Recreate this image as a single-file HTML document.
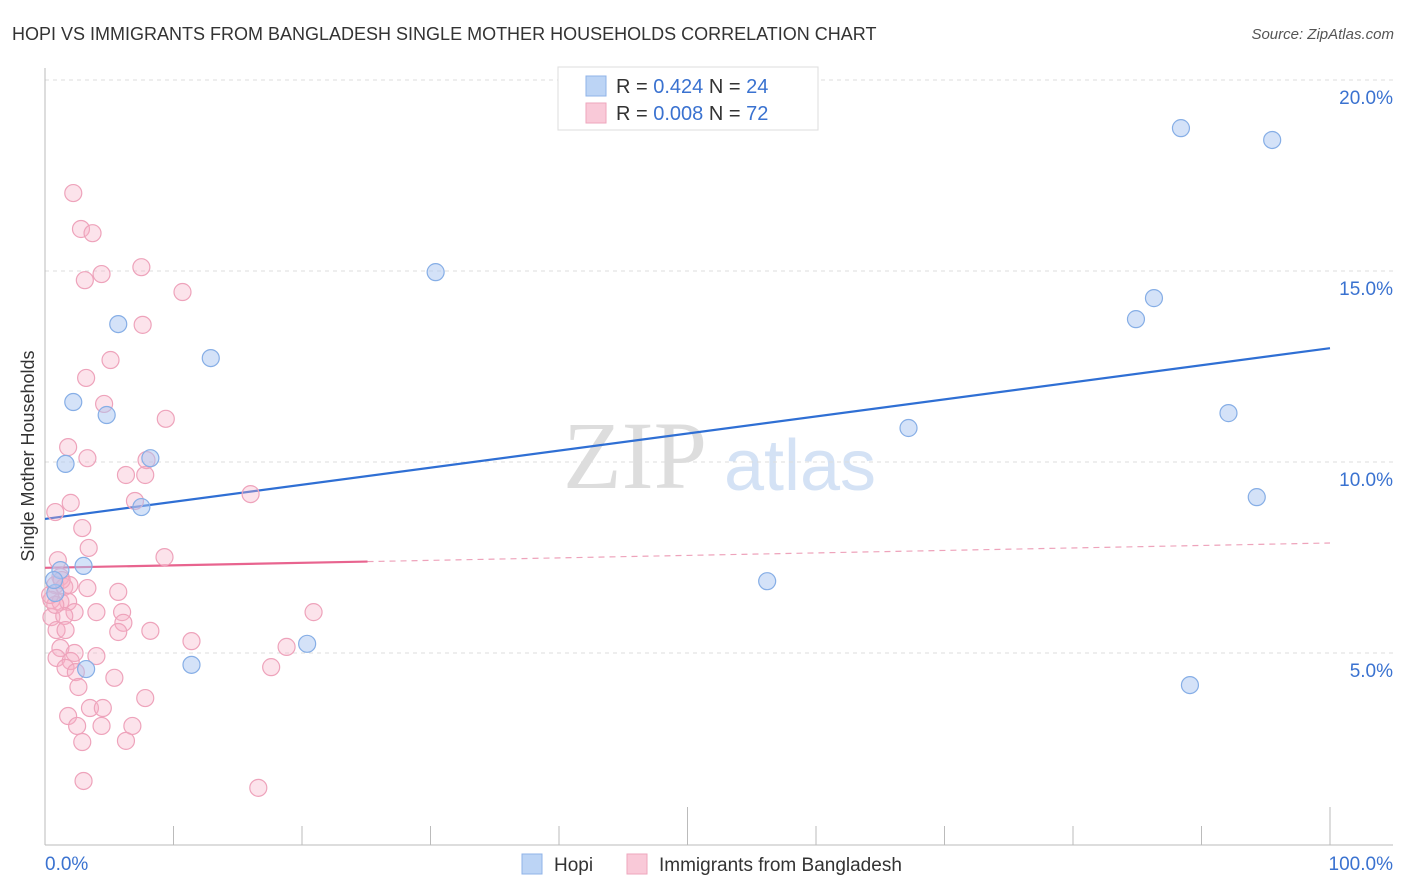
<!DOCTYPE html>
<html><head><meta charset="utf-8"><style>
body{margin:0;background:#fff;font-family:"Liberation Sans",sans-serif}
svg{display:block}
</style></head><body>
<svg id="c" width="1406" height="892" xmlns="http://www.w3.org/2000/svg">
<text x="12" y="40" font-size="18" fill="#333">HOPI VS IMMIGRANTS FROM BANGLADESH SINGLE MOTHER HOUSEHOLDS CORRELATION CHART</text>
<text x="1394" y="39" font-size="15" fill="#555" font-style="italic" text-anchor="end">Source: ZipAtlas.com</text>
<g><text x="635" y="488" font-size="96" fill="#ddd" text-anchor="middle" font-family="Liberation Serif,serif">ZIP</text><text x="800" y="490" font-size="72" fill="#d4e2f5" text-anchor="middle">atlas</text></g>
<g id="grid"></g><g id="axes"></g><g id="lines"></g><g id="pts"></g>
<text transform="translate(34,456) rotate(-90)" font-size="18" fill="#333" text-anchor="middle">Single Mother Households</text>
<g>
<rect x="558" y="67" width="260" height="63" fill="#fff" stroke="#ddd"/>
<rect x="586" y="76" width="20" height="20" fill="#bcd4f5" stroke="#8fb3e8"/>
<rect x="586" y="103" width="20" height="20" fill="#f9c9d8" stroke="#eea6bd"/>
<text x="616" y="93" font-size="20" fill="#333">R = <tspan fill="#3a72d0">0.424</tspan>   N = <tspan fill="#3a72d0">24</tspan></text>
<text x="616" y="120" font-size="20" fill="#333">R = <tspan fill="#3a72d0">0.008</tspan>   N = <tspan fill="#3a72d0">72</tspan></text>
</g>
<g>
<rect x="522" y="854" width="20" height="20" fill="#bcd4f5" stroke="#8fb3e8"/>
<text x="554" y="871" font-size="19" fill="#333">Hopi</text>
<rect x="627" y="854" width="20" height="20" fill="#f9c9d8" stroke="#eea6bd"/>
<text x="659" y="871" font-size="19" fill="#333">Immigrants from Bangladesh</text>
</g>
</svg>
<script>
const yTicks=[5,10,15,20];
const yTickLabels=["5.0%","10.0%","15.0%","20.0%"];
const xTickLabels=["0.0%","100.0%"];
const hopiX=[5.7,2.2,1.6,4.8,8.2,7.5,3.0,1.2,3.2,12.9,11.4,20.4,30.4,56.2,67.2,84.9,86.3,88.4,95.5,92.1,94.3,89.1,0.8,0.7];
const hopiY=[13.61,11.57,9.95,11.23,10.10,8.82,7.28,7.17,4.58,12.72,4.69,5.24,14.97,6.88,10.89,13.74,14.29,18.74,18.43,11.28,9.08,4.16,6.57,6.91];
const bangX=[2.2,2.8,3.7,3.1,4.4,7.5,10.7,7.6,5.1,3.2,4.6,9.4,1.8,3.3,6.3,7.8,7.9,2.0,7.0,16.0,0.8,2.9,3.4,9.3,1.2,0.8,1.5,3.3,5.7,0.5,1.2,1.8,2.3,4.0,6.0,0.5,1.5,6.1,0.9,1.6,5.7,8.2,20.9,11.4,18.8,1.2,2.3,4.0,0.9,2.0,1.6,2.4,17.6,5.4,2.6,7.8,1.8,3.5,4.5,2.5,4.4,6.8,2.9,6.3,3.0,16.6,0.8,0.4,1.3,1.9,1.0];
const bangY=[17.04,16.10,15.99,14.76,14.92,15.10,14.45,13.59,12.67,12.20,11.52,11.13,10.39,10.10,9.66,9.66,10.05,8.93,8.98,9.16,8.69,8.27,7.75,7.51,6.99,6.78,6.73,6.70,6.60,6.39,6.34,6.34,6.07,6.07,6.07,5.94,5.97,5.79,5.60,5.60,5.55,5.58,6.07,5.31,5.16,5.13,5.00,4.92,4.87,4.79,4.61,4.50,4.63,4.35,4.11,3.82,3.35,3.56,3.56,3.09,3.09,3.09,2.67,2.70,1.65,1.47,6.26,6.52,6.91,6.78,7.43];
const hopiTrend=[8.51,12.98];
const bangTrend=[7.23,7.88];
const bangSolidEnd=25.1;
const NS="http://www.w3.org/2000/svg";
const X=v=>45+v/100*1285, Y=v=>844-v/5*191;
function mk(tag,a,p){const e=document.createElementNS(NS,tag);for(const k in a)e.setAttribute(k,a[k]);document.getElementById(p).appendChild(e);return e;}
yTicks.forEach((t,i)=>{
 const g=mk('line',{x1:45,x2:1393,y1:Y(t),y2:Y(t),stroke:'#ddd','stroke-dasharray':'4,4'},'grid');
 
 
 const l=mk('text',{x:1393,y:Y(t)+24,'font-size':19,fill:'#3a72d0','text-anchor':'end'},'grid');
 l.textContent=yTickLabels[i];
 
 
});
const ax=mk('line',{x1:45,x2:1393,y1:845,y2:845,stroke:'#bbb'},'axes');


const ay=mk('line',{x1:45,x2:45,y1:68,y2:845,stroke:'#bbb'},'axes');


for(let i=1;i<=10;i++){
 const v=i*10, tall=(i==5||i==10);
 const t=mk('line',{x1:X(v),x2:X(v),y1:tall?807:826,y2:845,stroke:'#bbb'},'axes');
 
 
}
[[0,'start',45],[100,'end',1393]].forEach((d,i)=>{
 const l=mk('text',{x:d[2],y:870,'font-size':19,fill:'#3a72d0','text-anchor':d[1]},'axes');
 l.textContent=xTickLabels[i];
 
 
});
bangX.forEach((x,i)=>{
 const c=mk('circle',{cx:X(x),cy:Y(bangY[i]),r:8.5,fill:'rgba(246,175,198,0.35)',stroke:'#eea3bb','stroke-width':1.2},'pts');
 
 
});
hopiX.forEach((x,i)=>{
 const c=mk('circle',{cx:X(x),cy:Y(hopiY[i]),r:8.5,fill:'rgba(170,198,242,0.5)',stroke:'#86aee6','stroke-width':1.2},'pts');
 
 
});
const lerp=(a,x)=>a[0]+(a[1]-a[0])*x/100;
const hl=mk('line',{x1:X(0),y1:Y(hopiTrend[0]),x2:X(100),y2:Y(hopiTrend[1]),stroke:'#2f6fd4','stroke-width':2.2},'lines');


const bl=mk('line',{x1:X(0),y1:Y(bangTrend[0]),x2:X(bangSolidEnd),y2:Y(lerp(bangTrend,bangSolidEnd)),stroke:'#e8648f','stroke-width':2.2},'lines');


const bd=mk('line',{x1:X(bangSolidEnd),y1:Y(lerp(bangTrend,bangSolidEnd)),x2:X(100),y2:Y(bangTrend[1]),stroke:'#eea3bb','stroke-width':1.2,'stroke-dasharray':'6,5'},'lines');


</script>
</body></html>
